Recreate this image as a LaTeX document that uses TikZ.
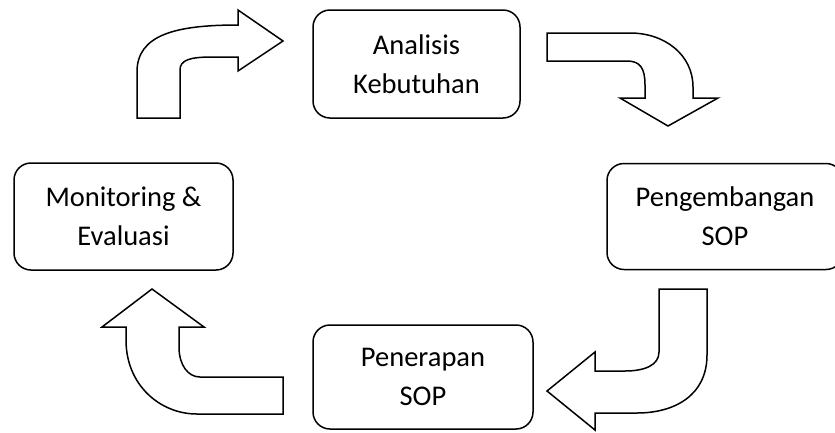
\documentclass[tikz,border=0pt]{standalone}
\usepackage{fontspec}
\setmainfont{Carlito}
\tikzset{
  stage/.style={draw=black, line width=1.5pt, rounded corners=17pt, fill=white,
    align=center, inner sep=0pt, font=\fontsize{28.5}{39}\selectfont},
  blockarrow/.style={draw=black, line width=1.5pt, fill=white, line join=miter}
}
\begin{document}
\begin{tikzpicture}[x=1pt,y=-1pt]
\path[use as bounding box] (0,0) rectangle (835,432);
% boxes
\node[stage, minimum width=207pt, minimum height=108pt] (ana) at (416.5,64) {Analisis\\Kebutuhan};
\node[stage, minimum width=236pt, minimum height=106pt] (peng) at (725,216.5) {Pengembangan\\SOP};
\node[stage, minimum width=220pt, minimum height=104pt] (pen) at (423,377) {Penerapan\\SOP};
\node[stage, minimum width=219pt, minimum height=107pt] (mon) at (123.5,216.5) {Monitoring \&\\Evaluasi};
% arrow 1: up then right (top-left)
\draw[blockarrow] (137,118) -- (180,118) -- (180,70)
  .. controls (180,60) and (190,57) .. (212,57) -- (238,57) -- (238,71)
  -- (283,41) -- (238,10) -- (238,25)
  .. controls (175,25) and (137,35) .. (137,72) -- cycle;
% arrow 2: right then down (top-right)
\draw[blockarrow] (547,33) -- (630,33)
  .. controls (665,33) and (693,55) .. (693,87) -- (693,98) -- (718,98)
  -- (668,126) -- (620,98) -- (645,98) -- (645,85)
  .. controls (645,68) and (640,61) .. (627,61) -- (547,61) -- cycle;
% arrow 3: down then left (bottom-right)
\draw[blockarrow] (659,289) -- (707,289) -- (707,355)
  .. controls (707,395) and (675,413) .. (637,413) -- (595,413) -- (595,430)
  -- (547,391) -- (595,352) -- (595,371) -- (625,371)
  .. controls (645,371) and (659,365) .. (659,352) -- cycle;
% arrow 4: left then up (bottom-left)
\draw[blockarrow] (283,414) -- (197,414)
  .. controls (160,414) and (126,385) .. (126,340) -- (126,327) -- (102,327)
  -- (152,289) -- (204,327) -- (179,327) -- (179,347)
  .. controls (179,365) and (188,377) .. (200,377) -- (283,377) -- cycle;
\end{tikzpicture}
\end{document}
